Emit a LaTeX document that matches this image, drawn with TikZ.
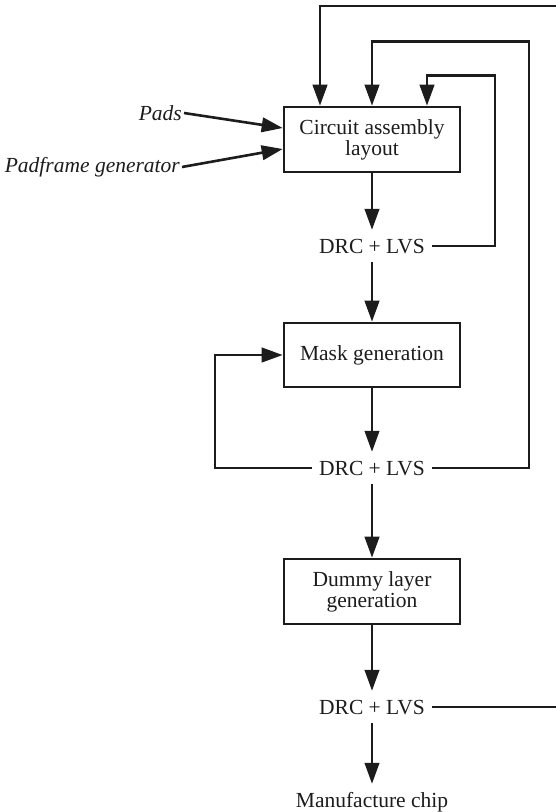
\documentclass[tikz,border=0pt]{standalone}
\usepackage{fontspec}
\setmainfont{Liberation Serif}
\usetikzlibrary{arrows.meta}
\definecolor{ink}{HTML}{1C1C1C}
\begin{document}
\begin{tikzpicture}[x=1pt,y=-1pt,
  wire/.style={line width=2.6pt, draw=ink},
  flow/.style={wire, -{Triangle[length=21pt,width=14.5pt]}},
  stage/.style={draw=ink, line width=2.6pt, minimum width=176pt, align=center,
    text=ink, font=\fontsize{21.5}{21}\selectfont, inner sep=0pt},
  check/.style={text=ink, font=\fontsize{21.5}{22}\selectfont, inner xsep=7pt,
    inner ysep=8.5pt, text height=15pt, text depth=0pt},
  source/.style={text=ink, font=\itshape\fontsize{21.5}{22}\selectfont, inner sep=2pt}]
\useasboundingbox (0,0) rectangle (555,812);

% process stages
\node[stage, minimum height=65pt] (b1) at (372,139.5) {Circuit assembly\\layout};
\node[stage, minimum height=64pt] (b2) at (372,355) {Mask generation};
\node[stage, minimum height=65pt] (b3) at (372,591.5) {Dummy layer\\generation};

% verification steps and final output
\node[check] (d1) at (372,246) {DRC + LVS};
\node[check] (d2) at (372,468) {DRC + LVS};
\node[check] (d3) at (372,707) {DRC + LVS};
\node[check] (mfg) at (372,800) {Manufacture chip};

% external inputs
\node[source, anchor=east] (pads) at (184,113) {Pads};
\node[source, anchor=east] (pfg) at (182,167) {Padframe generator};

\draw[flow] (pads.east) -- ([yshift=11.5pt]b1.west);
\draw[flow] (pfg.east) -- ([yshift=-9.5pt]b1.west);

% main flow
\draw[flow] (b1.south) -- (d1.north);
\draw[flow] (d1.south) -- (b2.north);
\draw[flow] (b2.south) -- (d2.north);
\draw[flow] (d2.south) -- (b3.north);
\draw[flow] (b3.south) -- (d3.north);
\draw[flow] (d3.south) -- (mfg.north);

% feedback loops
\draw[flow] (d1.east) -| (495,75.7) -| ([xshift=55pt]b1.north);
\draw[flow] (d2.east) -| (529,41.7) -| (b1.north);
\draw[flow] (d3.east) -| (600,6) -| ([xshift=-52pt]b1.north);
\draw[flow] (d2.west) -| (215,355) -- (b2.west);
\end{tikzpicture}
\end{document}
